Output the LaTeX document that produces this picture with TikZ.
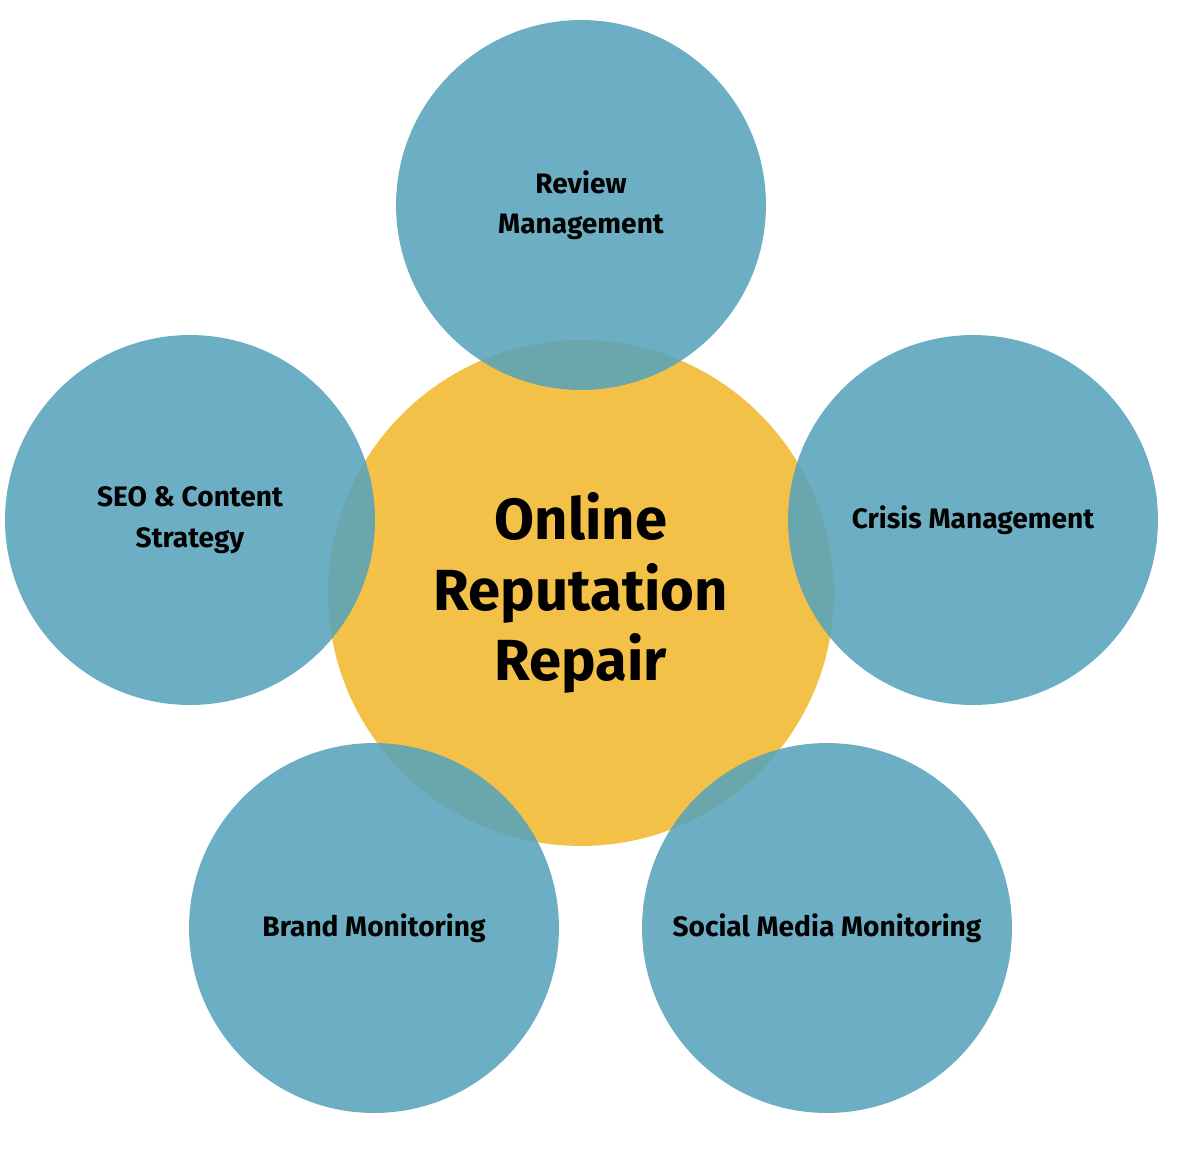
\documentclass[tikz,border=0pt]{standalone}
\usepackage{fontspec}
\setmainfont{Fira Sans}
\usepackage{tikz}
\definecolor{teal}{RGB}{88, 164, 188}
\definecolor{gold}{RGB}{243, 193, 72}
\tikzset{
  part/.style={circle, fill=teal, fill opacity=0.88, text opacity=1,
    minimum size=7.4cm, inner sep=0pt, align=center,
    font=\bfseries\fontsize{16}{23}\selectfont},
  hub/.style={circle, fill=gold, minimum size=10.12cm, inner sep=0pt,
    align=center, font=\bfseries\fontsize{33}{40}\selectfont}
}
\begin{document}
\begin{tikzpicture}[x=0.02cm, y=-0.02cm]

  \useasboundingbox (0, 0) rectangle (1200, 1160);

  \node[hub] (repair) at (581, 593) {};

  \node[part] (review) at (581, 205) {Review\\Management};
  \node[part] (seo) at (190, 520) {SEO \& Content\\Strategy};
  \node[part] (crisis) at (973, 520) {Crisis Management};
  \node[part] (brand) at (374, 928) {Brand Monitoring};
  \node[part] (social) at (827, 928) {Social Media Monitoring};

  \node[align=center, font=\bfseries\fontsize{33}{40}\selectfont]
    at (repair) {Online\\Reputation\\Repair};

\end{tikzpicture}
\end{document}
